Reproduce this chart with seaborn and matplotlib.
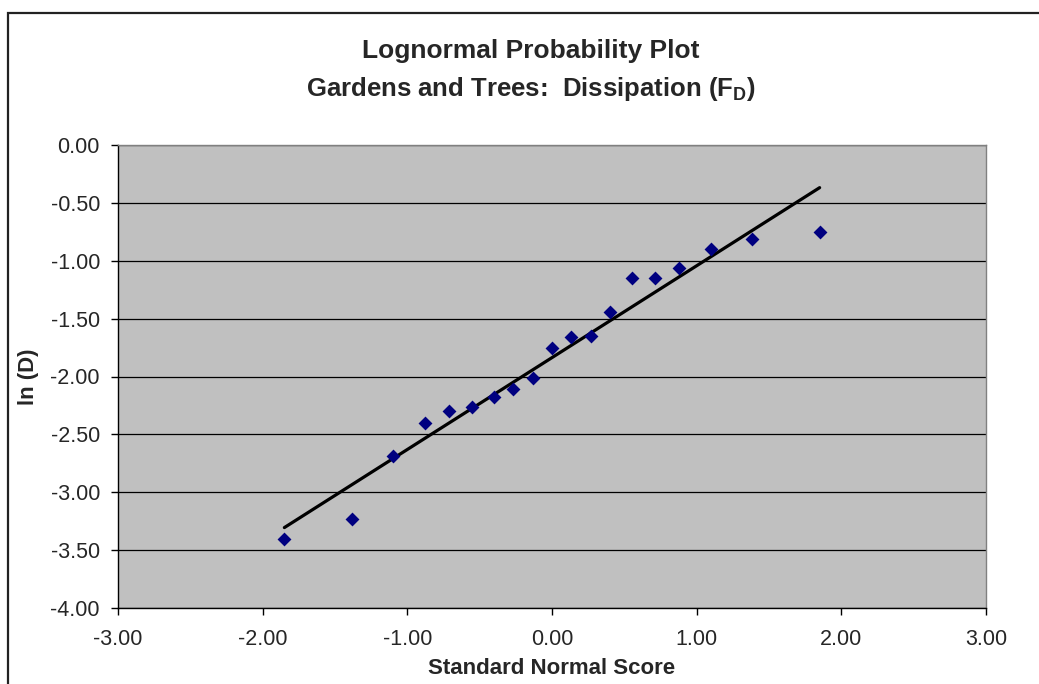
import numpy as np
import pandas as pd
import matplotlib
matplotlib.use("Agg")
import matplotlib.pyplot as plt
import seaborn as sns
from matplotlib.patches import Rectangle

# Dane
normal_score = [-1.85, -1.38, -1.10, -0.88, -0.71, -0.55, -0.40, -0.27, -0.13, 0.00,
                0.13, 0.27, 0.40, 0.55, 0.71, 0.88, 1.10, 1.38, 1.85]
ln_d = [-3.40, -3.23, -2.69, -2.40, -2.30, -2.26, -2.18, -2.11, -2.01, -1.75,
        -1.66, -1.65, -1.44, -1.15, -1.15, -1.06, -0.90, -0.81, -0.75]
x_ticks = [-3.0, -2.0, -1.0, 0.0, 1.0, 2.0, 3.0]
y_ticks = [0.0, -0.5, -1.0, -1.5, -2.0, -2.5, -3.0, -3.5, -4.0]

df = pd.DataFrame({'score': normal_score, 'lnD': ln_d})

sns.set_style("white", {
    "axes.facecolor": "#C0C0C0",
    "axes.grid": True,
    "grid.color": "black",
})
plt.rcParams['font.family'] = ['Liberation Sans', 'DejaVu Sans']
plt.rcParams['mathtext.fontset'] = 'custom'
plt.rcParams['mathtext.rm'] = 'Liberation Sans:bold'
plt.rcParams['mathtext.bf'] = 'Liberation Sans:bold'
plt.rcParams['mathtext.it'] = 'Liberation Sans:bold'

fig = plt.figure(figsize=(10.39, 6.84), dpi=100)
ax = fig.add_axes([118 / 1039, 1 - 608 / 684, (986 - 118) / 1039, (608 - 145) / 684])

# Ramka wykresu (prawa i dolna krawędź poza obrazkiem)
fig.patches.append(Rectangle((8 / 1039, -0.1), 1.2, 1.1 - 13 / 684,
                             transform=fig.transFigure, fill=False,
                             edgecolor='#222222', linewidth=1.6))

sns.regplot(data=df, x='score', y='lnD', ax=ax, ci=None, marker='D',
            scatter_kws={'s': 50, 'color': '#000080', 'alpha': 1,
                         'linewidths': 0, 'zorder': 4},
            line_kws={'color': 'black', 'linewidth': 2.3, 'zorder': 3})

ax.set_xlim(-3, 3)
ax.set_ylim(-4, 0)
ax.set_xticks(x_ticks)
ax.set_yticks(y_ticks)
ax.set_xticklabels([f'{v:.2f}' for v in x_ticks])
ax.set_yticklabels([f'{v:.2f}' for v in y_ticks])
ax.xaxis.grid(False)
ax.yaxis.grid(True, color='black', linewidth=0.9)
ax.set_axisbelow(True)
ax.tick_params(axis='both', direction='out', length=5, width=1, color='black',
               labelsize=15.5, left=True, bottom=True)
ax.tick_params(axis='x', pad=10)
ax.tick_params(axis='y', pad=8)

for side in ['left', 'bottom']:
    ax.spines[side].set_color('black')
    ax.spines[side].set_linewidth(1.0)
for side in ['top', 'right']:
    ax.spines[side].set_color('#808080')
    ax.spines[side].set_linewidth(1.0)

ax.set_xlabel('Standard Normal Score', fontsize=16, fontweight='bold', labelpad=6)
ax.set_ylabel('ln (D)', fontsize=16, fontweight='bold', labelpad=8)

fig.text(531 / 1039, 1 - 51 / 684, 'Lognormal Probability Plot',
         ha='center', va='center', fontsize=19, fontweight='bold')
fig.text(531 / 1039, 1 - 89 / 684, r'Gardens and Trees:  Dissipation ($\mathbf{F_D}$)',
         ha='center', va='center', fontsize=18.5, fontweight='bold')

fig.savefig('out.png', dpi=100)
